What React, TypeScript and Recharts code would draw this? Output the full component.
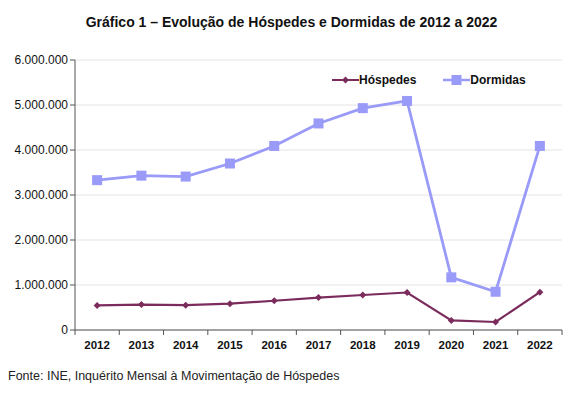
import { LineChart, Line, XAxis, YAxis, CartesianGrid } from 'recharts';

const years = ['2012', '2013', '2014', '2015', '2016', '2017', '2018', '2019', '2020', '2021', '2022'];
const hospedes = [547000, 565000, 552000, 585000, 650000, 720000, 778000, 833000, 212000, 178000, 840000];
const dormidas = [3330000, 3430000, 3410000, 3700000, 4090000, 4590000, 4930000, 5090000, 1170000, 850000, 4090000];
const yTicks = [0, 1000000, 2000000, 3000000, 4000000, 5000000, 6000000];

const data = years.map((year, i) => ({ year, hospedes: hospedes[i], dormidas: dormidas[i] }));

const MAROON = '#7b2c5c';
const LILAC = '#9a9af8';
const FONT = '"Liberation Sans", Arial, sans-serif';

const fmt = (v: number) => String(v).replace(/\B(?=(\d{3})+(?!\d))/g, '.');

const Diamond = (props: any) => {
  const { cx, cy } = props;
  if (cx == null || cy == null) return null;
  return <polygon points={`${cx},${cy - 3.5} ${cx + 3.5},${cy} ${cx},${cy + 3.5} ${cx - 3.5},${cy}`} fill={MAROON} />;
};

const Square = (props: any) => {
  const { cx, cy } = props;
  if (cx == null || cy == null) return null;
  return <rect x={cx - 5} y={cy - 5} width={10} height={10} fill={LILAC} />;
};

const BAND = 487 / years.length;

const XTick = (props: any) => {
  const { x, y, payload, index } = props;
  return (
    <g>
      <line x1={x - BAND / 2} x2={x - BAND / 2} y1={y - 8} y2={y - 3} stroke="#555" />
      {index === years.length - 1 && (
        <line x1={x + BAND / 2} x2={x + BAND / 2} y1={y - 8} y2={y - 3} stroke="#555" />
      )}
      <text x={x} y={y + 11} textAnchor="middle" fontSize={11.5} fontWeight="bold" fill="#111" fontFamily={FONT}>
        {payload.value}
      </text>
    </g>
  );
};

const LegendBox = () => (
  <div style={{ position: 'absolute', top: 73, left: 332, display: 'flex', fontSize: 12, fontWeight: 'bold', color: '#111' }}>
    <div style={{ display: 'flex', alignItems: 'center', marginRight: 27 }}>
      <svg width={27} height={10}>
        <line x1={0} x2={27} y1={5} y2={5} stroke={MAROON} strokeWidth={2} />
        <polygon points="13.5,1.5 17,5 13.5,8.5 10,5" fill={MAROON} />
      </svg>
      <span>Hóspedes</span>
    </div>
    <div style={{ display: 'flex', alignItems: 'center' }}>
      <svg width={27} height={10}>
        <line x1={0} x2={27} y1={5} y2={5} stroke={LILAC} strokeWidth={2.5} />
        <rect x={8.5} y={0} width={10} height={10} fill={LILAC} />
      </svg>
      <span>Dormidas</span>
    </div>
  </div>
);

export default function App() {
  return (
    <div style={{ position: 'absolute', left: 0, top: 0, width: 583, height: 394, background: '#fff', fontFamily: FONT }}>
      <div style={{ position: 'absolute', top: 14, left: 0, width: 583, textAlign: 'center', fontSize: 14, fontWeight: 'bold', color: '#111' }}>
        Gráfico 1 – Evolução de Hóspedes e Dormidas de 2012 a 2022
      </div>
      <LineChart width={583} height={394} data={data} margin={{ top: 60, right: 21, bottom: 34, left: 0 }}>
        <CartesianGrid vertical={false} stroke="#e4e4e4" />
        <XAxis
          dataKey="year"
          scale="band"
          tick={<XTick />}
          tickLine={false}
          axisLine={{ stroke: '#555' }}
          interval={0}
          height={30}
        />
        <YAxis
          domain={[0, 6000000]}
          ticks={yTicks}
          tickFormatter={fmt}
          width={75}
          tickSize={5}
          tick={{ fontSize: 12, fill: '#111', fontFamily: FONT }}
          axisLine={{ stroke: '#555' }}
          tickLine={{ stroke: '#555' }}
        />
        <Line dataKey="hospedes" name="Hóspedes" stroke={MAROON} strokeWidth={2.2} dot={<Diamond />} activeDot={false} isAnimationActive={false} />
        <Line dataKey="dormidas" name="Dormidas" stroke={LILAC} strokeWidth={2.8} dot={<Square />} activeDot={false} isAnimationActive={false} />
      </LineChart>
      <LegendBox />
      <div style={{ position: 'absolute', top: 369, left: 8, fontSize: 12.5, color: '#222' }}>
        Fonte: INE, Inquérito Mensal à Movimentação de Hóspedes
      </div>
    </div>
  );
}
